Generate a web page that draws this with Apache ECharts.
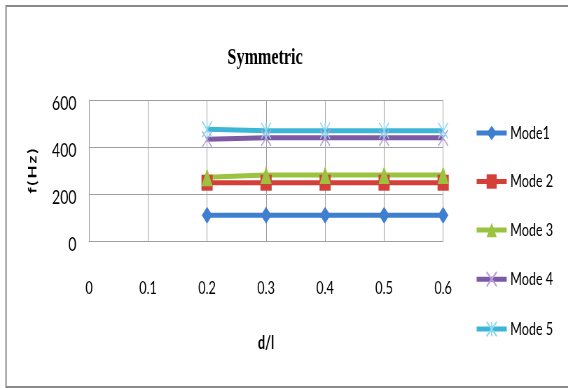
<!DOCTYPE html>
<html>
<head>
<meta charset="utf-8">
<script src="https://cdn.jsdelivr.net/npm/echarts@6/dist/echarts.min.js"></script>
<style>
html,body{margin:0;padding:0;background:#fff;overflow:hidden}
#wrap{width:568px;height:388px;overflow:hidden;position:relative}
#c{width:811px;height:388px;transform:scaleX(0.70037);transform-origin:0 0;position:absolute;left:0;top:0}
</style>
</head>
<body>
<div id="wrap"><div id="c"></div></div>
<script>
var title = 'Symmetric';
var xName = 'd/l';
var yName = 'f\u2009(\u2009H\u2009z\u2009)';
var xValues = [0.2, 0.3, 0.4, 0.5, 0.6];
var seriesNames = ['Mode1', 'Mode 2', 'Mode 3', 'Mode 4', 'Mode 5'];
var mode1 = [113, 113, 113, 113, 113];
var mode2 = [251, 251, 251, 251, 251];
var mode3 = [274, 284, 284, 284, 284];
var mode4 = [436, 442, 442, 442, 442];
var mode5 = [478, 472, 472, 472, 472];
var xTicks = [0, 0.1, 0.2, 0.3, 0.4, 0.5, 0.6];
var yTicks = [0, 200, 400, 600];

var FONT = 'Lato, "Open Sans", "Liberation Sans", sans-serif';
var lineColors = ['#3f7fcf', '#d43f3a', '#9bc33f', '#7c5aa6', '#3cb5d6'];
var markColors = ['#3f7fcf', '#d43f3a', '#9bc33f', '#b9a0dc', '#8cd9ef'];
var symbols = ['diamond', 'rect', 'triangle',
  'path://M0,0 L14,16 M14,0 L0,16',
  'path://M0,0 L14,16 M14,0 L0,16 M7,0 L7,16'];
var symbolSizes = [[15,17],[16,16],[16,18],[14,16],[14,16]];
var allData = [mode1, mode2, mode3, mode4, mode5];

function pairs(vals) { return xValues.map(function (x, i) { return [x, vals[i]]; }); }

var series = seriesNames.map(function (n, i) {
  var isPath = i >= 3;
  return {
    name: n, type: 'line', data: pairs(allData[i]),
    symbol: symbols[i], symbolSize: symbolSizes[i], showAllSymbol: true,
    lineStyle: { color: lineColors[i], width: 5 },
    itemStyle: isPath ? { color: 'none', borderColor: markColors[i], borderWidth: 1.5 }
                      : { color: markColors[i], borderWidth: 0 },
    emphasis: { disabled: true },
    animation: false
  };
});

var chart = echarts.init(document.getElementById('c'), null, { renderer: 'canvas', width: 811, height: 388 });
chart.setOption({
  backgroundColor: '#fff',
  animation: false,
  color: lineColors,
  graphic: [
    { type: 'rect', shape: { x: 8.6, y: 6, width: 900, height: 381 }, style: { fill: 'none', stroke: '#8a8a8a', lineWidth: 2 }, silent: true, z: -1 },
    { type: 'text', x: 378.5, y: 58, style: { text: title, font: 'bold 23px "Liberation Serif","Times New Roman",serif', fill: '#000', textAlign: 'center', textVerticalAlign: 'middle' } }
  ],
  grid: { left: 127.1, right: 178.3, top: 100.7, bottom: 146.3, containLabel: false },
  legend: {
    orient: 'vertical', left: 673, top: 119, padding: 5,
    itemWidth: 43, itemHeight: 18, itemGap: 30.5, itemTextGap: 4,
    lineStyle: { width: 5 },
    textStyle: { fontFamily: FONT, fontSize: 18, color: '#000' },
    data: seriesNames
  },
  xAxis: {
    type: 'value', min: 0, max: 0.6, interval: 0.1,
    name: xName, nameLocation: 'middle', nameGap: 92,
    nameTextStyle: { fontFamily: FONT, fontSize: 18, fontWeight: 'bold', color: '#000' },
    axisLine: { show: true, lineStyle: { color: '#a0a0a0', width: 1 } },
    axisTick: { show: false },
    axisLabel: { margin: 37, fontFamily: FONT, fontSize: 18, color: '#000',
      formatter: function (v) { var t = xTicks.filter(function (k) { return Math.abs(k - v) < 1e-9; }); return t.length ? String(t[0]) : ''; } },
    splitLine: { show: true, lineStyle: { color: '#a0a0a0', width: 1 } }
  },
  yAxis: {
    type: 'value', min: 0, max: 600, interval: 200,
    name: yName, nameLocation: 'middle', nameGap: 72, nameRotate: 90,
    nameTextStyle: { fontFamily: FONT, fontSize: 17, fontWeight: 'bold', color: '#000' },
    axisLine: { show: true, lineStyle: { color: '#a0a0a0', width: 1 } },
    axisTick: { show: false },
    axisLabel: { margin: 18, fontFamily: FONT, fontSize: 20, color: '#000',
      formatter: function (v) { return yTicks.indexOf(v) >= 0 ? '{a|' + v + '}' : ''; },
      rich: { a: { fontFamily: FONT, fontSize: 20, color: '#000', padding: [6, 0, 0, 0] } } },
    splitLine: { show: true, lineStyle: { color: '#a0a0a0', width: 1 } }
  },
  series: series
});
</script>
</body>
</html>
